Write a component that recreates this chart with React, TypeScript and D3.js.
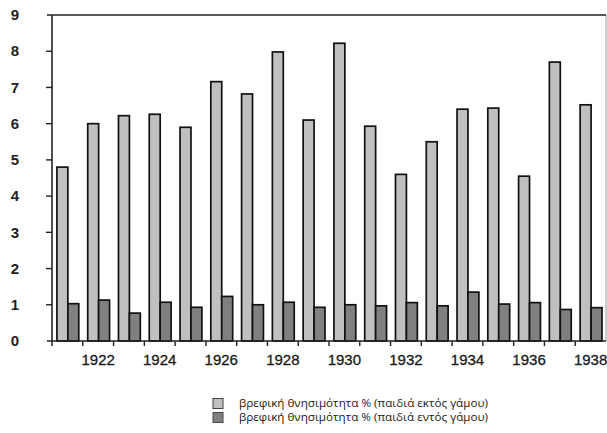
import React from "react";
import * as d3 from "d3";

const years = [1921,1922,1923,1924,1925,1926,1927,1928,1929,1930,1931,1932,1933,1934,1935,1936,1937,1938];
const outOfWedlock = [4.8,6.0,6.22,6.26,5.9,7.16,6.82,7.98,6.1,8.22,5.93,4.6,5.5,6.4,6.43,4.55,7.7,6.52];
const inWedlock = [1.03,1.13,0.77,1.07,0.93,1.23,1.0,1.07,0.93,1.0,0.97,1.06,0.97,1.35,1.02,1.06,0.87,0.92];
const yTicks = [0,1,2,3,4,5,6,7,8,9];
const seriesNames = [
  "βρεφική θνησιμότητα % (παιδιά εκτός γάμου)",
  "βρεφική θνησιμότητα % (παιδιά εντός γάμου)",
];
const seriesColors = ["#c0c0c0", "#808080"];

export default function App() {
  const W = 607, H = 433;
  const left = 52, right = 606, top = 15, bottom = 341;
  const x = d3.scaleBand<number>().domain(years).range([left, right]).padding(0);
  const bw = x.bandwidth();
  const inner = d3.scaleBand<number>().domain([0, 1]).range([bw * 0.16, bw * 0.87]).padding(0);
  const y = d3.scaleLinear().domain([0, 9]).range([bottom, top]);
  const series = [outOfWedlock, inWedlock];
  const font = "'Liberation Sans', Arial, sans-serif";

  return (
    <svg width={W} height={H} style={{ position: "absolute", left: 0, top: 0, background: "#fff" }}>
      {/* right border */}
      <line x1={right} x2={right} y1={top} y2={bottom} stroke="#999" strokeWidth={1} />
      {/* bars */}
      {years.map((yr, i) =>
        series.map((s, k) => (
          <rect
            key={`${yr}-${k}`}
            x={(x(yr) as number) + (inner(k) as number)}
            y={y(s[i])}
            width={inner.bandwidth()}
            height={y(0) - y(s[i])}
            fill={seriesColors[k]}
            stroke="#111"
            strokeWidth={1.7}
          />
        ))
      )}
      {/* top line */}
      <line x1={47} x2={right} y1={top} y2={top} stroke="#222" strokeWidth={1.6} />
      {/* y axis */}
      <line x1={left} x2={left} y1={top} y2={bottom} stroke="#222" strokeWidth={1.6} />
      {yTicks.map((t) => (
        <g key={t}>
          {t > 0 && t < 9 && <line x1={left - 6} x2={left} y1={y(t)} y2={y(t)} stroke="#222" strokeWidth={1.4} />}
          <text x={19} y={y(t)} dy="0.35em" textAnchor="end" fontFamily={font} fontWeight="bold" fontSize={15} fill="#222">
            {t}
          </text>
        </g>
      ))}
      {/* x axis */}
      <line x1={47} x2={right} y1={bottom} y2={bottom} stroke="#222" strokeWidth={1.6} />
      {years.map((yr) => (
        <line key={`t${yr}`} x1={x(yr) as number} x2={x(yr) as number} y1={bottom} y2={bottom + 5} stroke="#222" strokeWidth={1.4} />
      ))}
      {years.filter((yr) => yr % 2 === 0).map((yr) => (
        <text key={`l${yr}`} x={(x(yr) as number) + bw / 2} y={365} textAnchor="middle" fontFamily={font} fontSize={15} fill="#1a1a1a" stroke="#1a1a1a" strokeWidth={0.3}>
          {yr}
        </text>
      ))}
      {/* legend */}
      {seriesNames.map((n, k) => (
        <g key={n}>
          <rect x={213} y={398.5 + k * 14} width={10} height={10} fill={seriesColors[k]} stroke="#444" strokeWidth={1} />
          <text x={239} y={407 + k * 14} fontFamily="'Open Sans', sans-serif" fontSize={11.5} fill="#1a1a1a" textLength={249} lengthAdjust="spacingAndGlyphs">
            {n}
          </text>
        </g>
      ))}
    </svg>
  );
}
